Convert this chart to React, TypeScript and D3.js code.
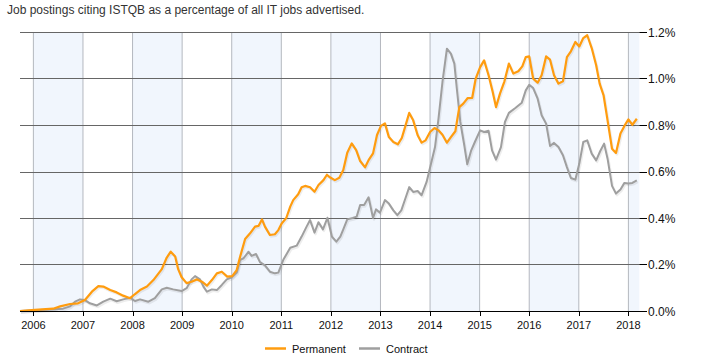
import React from "react";
import * as d3 from "d3";

const title = "Job postings citing ISTQB as a percentage of all IT jobs advertised.";
const years = [2006, 2007, 2008, 2009, 2010, 2011, 2012, 2013, 2014, 2015, 2016, 2017, 2018];
const yTicks = [0, 0.2, 0.4, 0.6, 0.8, 1.0, 1.2];
const seriesNames = ["Permanent", "Contract"];

const permDates = [2005.73,2006.03,2006.4,2006.54,2006.74,2006.9,2007.04,2007.18,2007.31,2007.41,2007.55,2007.68,2007.81,2007.95,2008.05,2008.15,2008.29,2008.42,2008.59,2008.69,2008.77,2008.86,2008.92,2008.99,2009.09,2009.19,2009.3,2009.4,2009.5,2009.6,2009.7,2009.8,2009.91,2010.01,2010.1,2010.17,2010.27,2010.37,2010.47,2010.54,2010.61,2010.67,2010.77,2010.87,2010.94,2011.01,2011.1,2011.18,2011.24,2011.34,2011.41,2011.48,2011.58,2011.67,2011.75,2011.85,2011.92,2011.98,2012.08,2012.17,2012.25,2012.33,2012.42,2012.51,2012.59,2012.69,2012.76,2012.85,2012.93,2013.01,2013.09,2013.17,2013.26,2013.35,2013.43,2013.5,2013.58,2013.66,2013.75,2013.83,2013.91,2014.0,2014.09,2014.17,2014.25,2014.34,2014.42,2014.51,2014.59,2014.67,2014.76,2014.85,2014.92,2015.01,2015.09,2015.18,2015.26,2015.33,2015.41,2015.5,2015.59,2015.68,2015.78,2015.86,2015.93,2016.0,2016.08,2016.17,2016.25,2016.34,2016.42,2016.5,2016.59,2016.68,2016.76,2016.84,2016.93,2017.01,2017.09,2017.17,2017.26,2017.35,2017.42,2017.5,2017.58,2017.67,2017.75,2017.84,2017.92,2018.0,2018.08,2018.17];
const permValues = [0,0.005,0.01,0.02,0.03,0.033,0.047,0.083,0.107,0.105,0.09,0.08,0.066,0.055,0.073,0.09,0.105,0.133,0.18,0.23,0.255,0.234,0.18,0.145,0.12,0.126,0.136,0.126,0.109,0.133,0.162,0.169,0.148,0.15,0.176,0.234,0.31,0.334,0.363,0.366,0.394,0.363,0.327,0.33,0.348,0.377,0.4,0.449,0.477,0.502,0.532,0.538,0.532,0.513,0.542,0.563,0.586,0.575,0.563,0.573,0.606,0.681,0.721,0.692,0.645,0.618,0.649,0.678,0.757,0.796,0.807,0.748,0.727,0.717,0.744,0.794,0.852,0.82,0.756,0.724,0.734,0.77,0.787,0.777,0.758,0.724,0.748,0.773,0.877,0.892,0.916,0.917,0.999,1.049,1.078,1.014,0.945,0.877,0.935,0.988,1.064,1.021,1.031,1.052,1.092,1.095,0.999,0.982,1.014,1.095,1.081,1.014,0.978,0.988,1.092,1.117,1.157,1.138,1.174,1.186,1.131,1.057,0.978,0.927,0.82,0.698,0.68,0.763,0.796,0.824,0.801,0.827];

const contDates = [2005.73,2006.24,2006.6,2006.74,2006.84,2006.94,2007.04,2007.14,2007.28,2007.41,2007.55,2007.68,2007.81,2007.95,2008.05,2008.15,2008.32,2008.45,2008.59,2008.69,2008.82,2008.99,2009.09,2009.19,2009.26,2009.36,2009.43,2009.5,2009.6,2009.7,2009.8,2009.9,2010.0,2010.1,2010.17,2010.24,2010.34,2010.4,2010.49,2010.57,2010.67,2010.77,2010.87,2010.94,2011.04,2011.18,2011.31,2011.41,2011.51,2011.58,2011.67,2011.75,2011.84,2011.93,2012.02,2012.11,2012.19,2012.25,2012.33,2012.44,2012.52,2012.59,2012.67,2012.76,2012.85,2012.91,2012.99,2013.09,2013.17,2013.26,2013.34,2013.42,2013.5,2013.58,2013.66,2013.75,2013.83,2013.93,2014.02,2014.1,2014.17,2014.25,2014.34,2014.42,2014.49,2014.54,2014.61,2014.69,2014.75,2014.83,2014.91,2015.01,2015.09,2015.18,2015.25,2015.33,2015.43,2015.51,2015.59,2015.72,2015.85,2015.93,2016.0,2016.08,2016.17,2016.25,2016.34,2016.42,2016.5,2016.59,2016.68,2016.76,2016.84,2016.93,2017.01,2017.09,2017.17,2017.26,2017.35,2017.43,2017.51,2017.58,2017.67,2017.75,2017.84,2017.92,2018.0,2018.08,2018.17];
const contValues = [0,0.005,0.01,0.02,0.04,0.05,0.047,0.033,0.024,0.04,0.053,0.042,0.05,0.057,0.043,0.05,0.04,0.055,0.093,0.1,0.093,0.086,0.098,0.136,0.15,0.136,0.105,0.083,0.093,0.09,0.112,0.136,0.145,0.165,0.22,0.227,0.255,0.237,0.245,0.21,0.196,0.169,0.162,0.165,0.22,0.272,0.281,0.32,0.363,0.391,0.337,0.382,0.351,0.401,0.32,0.298,0.32,0.351,0.394,0.4,0.406,0.456,0.456,0.489,0.4,0.437,0.423,0.477,0.462,0.433,0.412,0.433,0.483,0.533,0.512,0.516,0.498,0.555,0.634,0.705,0.827,0.985,1.128,1.107,1.064,0.956,0.813,0.713,0.631,0.691,0.73,0.777,0.77,0.775,0.691,0.651,0.705,0.813,0.852,0.873,0.896,0.949,0.973,0.959,0.913,0.842,0.806,0.71,0.723,0.705,0.67,0.619,0.572,0.565,0.634,0.727,0.734,0.677,0.648,0.687,0.72,0.655,0.538,0.505,0.523,0.551,0.548,0.551,0.562];

const W = 701;
const H = 356;
const left = 20;
const right = 639.3;
const top = 32;
const bottom = 311;
const font = "Arial, 'Liberation Sans', sans-serif";

export default function App() {
  const x = d3.scaleLinear().domain([2005.73, 2018.22]).range([left, right]);
  const y = d3.scaleLinear().domain([0, 1.2]).range([bottom, top]);
  const line = d3
    .line<[number, number]>()
    .x((d) => x(d[0]))
    .y((d) => y(d[1]));
  const perm = permDates.map((d, i) => [d, permValues[i]] as [number, number]);
  const cont = contDates.map((d, i) => [d, contValues[i]] as [number, number]);
  const [d0, d1] = x.domain();
  const bands = years.filter((yr) => yr % 2 === 0).map((yr) => [Math.max(yr, d0), Math.min(yr + 1, d1)]);

  return (
    <svg width={W} height={H} style={{ position: "absolute", left: 0, top: 0, background: "#fff" }} fontFamily={font}>
      <text x={7} y={13.5} fontSize={12} fill="#333">{title}</text>
      {bands.map(([a, b], i) => (
        <rect key={i} x={x(a)} y={top} width={x(b) - x(a)} height={bottom - top} fill="#f1f6fd" />
      ))}
      {years.map((yr) => (
        <line key={yr} x1={x(yr)} x2={x(yr)} y1={top} y2={bottom} stroke="#b4b8bf" strokeWidth={1} />
      ))}
      {yTicks.filter((t) => t > 0).map((t) => (
        <line key={t} x1={left} x2={right} y1={Math.round(y(t)) + 0.5} y2={Math.round(y(t)) + 0.5} stroke="#666" strokeWidth={1} />
      ))}
      <g transform="translate(1,1.5)" fill="none" strokeLinejoin="round">
        <path d={line(cont) || ""} stroke="rgba(0,0,0,0.07)" strokeWidth={2.5} />
        <path d={line(perm) || ""} stroke="rgba(0,0,0,0.07)" strokeWidth={2.5} />
      </g>
      <path d={line(cont) || ""} fill="none" stroke="#9f9f9f" strokeWidth={2} strokeLinejoin="round" />
      <path d={line(perm) || ""} fill="none" stroke="#ff9c0f" strokeWidth={2.2} strokeLinejoin="round" />
      <line x1={left} x2={647} y1={bottom + 0.5} y2={bottom + 0.5} stroke="#000" strokeWidth={1} />
      {years.map((yr) => (
        <g key={yr}>
          <line x1={Math.round(x(yr)) + 0.5} x2={Math.round(x(yr)) + 0.5} y1={bottom} y2={bottom + 5} stroke="#000" />
          <text x={x(yr)} y={329} fontSize={11} textAnchor="middle" fill="#111">{yr}</text>
        </g>
      ))}
      {yTicks.map((t) => (
        <g key={t}>
          <line x1={right} x2={647} y1={Math.round(y(t)) + 0.5} y2={Math.round(y(t)) + 0.5} stroke="#000" />
          <text x={648} y={y(t) + 4.5} fontSize={12} fill="#111">{t.toFixed(1) + "%"}</text>
        </g>
      ))}
      <line x1={265} x2={286} y1={348.5} y2={348.5} stroke="#ff9c0f" strokeWidth={2.5} />
      <text x={292} y={352.5} fontSize={11} fill="#111">{seriesNames[0]}</text>
      <line x1={359} x2={380} y1={348.5} y2={348.5} stroke="#9f9f9f" strokeWidth={2.5} />
      <text x={386} y={352.5} fontSize={11} fill="#111">{seriesNames[1]}</text>
    </svg>
  );
}
